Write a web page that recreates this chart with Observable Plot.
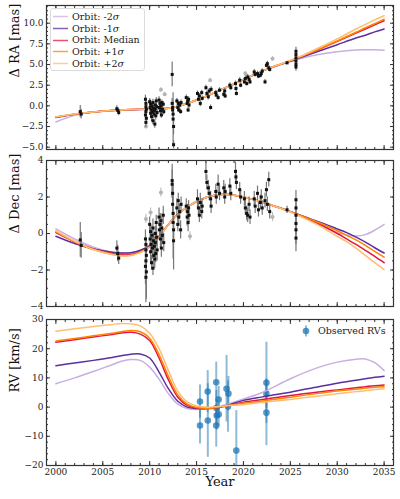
<!DOCTYPE html>
<html>
<head>
<meta charset="utf-8">
<script src="https://cdn.jsdelivr.net/npm/d3@7"></script>
<script src="https://cdn.jsdelivr.net/npm/@observablehq/plot@0.6"></script>
<style>
  body { margin: 0; background: #fff; }
  #chart { position: relative; width: 400px; height: 499px; font-family: "DejaVu Serif", serif; }
  #chart svg { display: block; }
  .legend { position: absolute; font-size: 9.5px; color: #222; line-height: 1; }
  .legend .row { position: absolute; display: flex; align-items: center; white-space: nowrap; }
  .legend svg { display: block; margin-right: 3px; }
</style>
</head>
<body>
<div id="chart"></div>
<script>
// ---- Orbit model curves, sampled by year ----
const orbitNames = ["-2", "-1", "Median", "+1", "+2"];
const orbitColors = ["#c9aee2", "#5c2e9e", "#e3173e", "#ff8200", "#ffbe70"];

const raYears  = [2000, 2002, 2004, 2006, 2008, 2010, 2011, 2012, 2013, 2014, 2015, 2016, 2017, 2018, 2019, 2020, 2021, 2022, 2023, 2024, 2025, 2026, 2028, 2030, 2032, 2033, 2034, 2035];
const raMinus2 = [-1.95, -1.15, -0.75, -0.56, -0.46, -0.4, -0.36, -0.3, -0.05, 0.3, 0.7, 1.15, 1.65, 2.15, 2.65, 3.2, 3.7, 4.2, 4.6, 5.0, 5.35, 5.7, 6.2, 6.55, 6.75, 6.78, 6.78, 6.72];
const raMinus1 = [-1.42, -1.02, -0.76, -0.56, -0.46, -0.4, -0.36, -0.3, -0.05, 0.3, 0.7, 1.15, 1.65, 2.15, 2.65, 3.2, 3.7, 4.2, 4.65, 5.05, 5.4, 5.8, 6.6, 7.4, 8.2, 8.55, 8.95, 9.3];
const raMedian = [-1.38, -1.0, -0.75, -0.55, -0.45, -0.4, -0.36, -0.3, -0.05, 0.3, 0.7, 1.15, 1.65, 2.15, 2.65, 3.2, 3.7, 4.2, 4.65, 5.05, 5.45, 5.9, 6.8, 7.8, 8.8, 9.3, 9.8, 10.3];
const raPlus1  = [-1.36, -1.0, -0.75, -0.55, -0.45, -0.4, -0.36, -0.3, -0.05, 0.3, 0.7, 1.15, 1.65, 2.15, 2.65, 3.2, 3.7, 4.2, 4.65, 5.05, 5.45, 5.9, 6.85, 7.85, 8.9, 9.45, 9.95, 10.5];
const raPlus2  = [-1.32, -0.98, -0.74, -0.55, -0.45, -0.4, -0.36, -0.3, -0.05, 0.3, 0.7, 1.15, 1.65, 2.15, 2.65, 3.2, 3.7, 4.2, 4.65, 5.07, 5.5, 5.95, 7.0, 8.1, 9.3, 9.85, 10.4, 10.9];

const decYears  = [2000, 2002, 2004, 2006, 2007, 2008, 2009, 2010, 2011, 2012, 2013, 2014, 2015, 2016, 2017, 2018, 2019, 2020, 2021, 2022, 2023, 2024, 2025, 2026, 2028, 2030, 2031, 2032, 2033, 2034, 2035];
const decMinus2 = [0.25, -0.3, -0.75, -1.02, -1.08, -1.06, -0.94, -0.68, -0.17, 0.5, 1.05, 1.45, 1.75, 1.97, 2.1, 2.15, 2.1, 2.0, 1.87, 1.72, 1.55, 1.38, 1.2, 0.98, 0.5, 0.05, -0.08, -0.14, -0.06, 0.18, 0.5];
const decMinus1 = [-0.15, -0.55, -0.85, -1.03, -1.07, -1.05, -0.92, -0.66, -0.15, 0.5, 1.05, 1.45, 1.75, 1.97, 2.1, 2.15, 2.1, 2.0, 1.87, 1.72, 1.55, 1.38, 1.2, 1.02, 0.65, 0.25, 0.05, -0.2, -0.47, -0.78, -1.07];
const decMedian = [0.05, -0.45, -0.85, -1.1, -1.17, -1.15, -1.0, -0.72, -0.2, 0.5, 1.05, 1.45, 1.75, 1.97, 2.1, 2.15, 2.1, 2.0, 1.87, 1.72, 1.55, 1.38, 1.2, 1.0, 0.55, 0.0, -0.3, -0.6, -0.92, -1.25, -1.6];
const decPlus1  = [0.1, -0.45, -0.88, -1.14, -1.21, -1.19, -1.03, -0.74, -0.2, 0.5, 1.05, 1.45, 1.75, 1.97, 2.1, 2.15, 2.1, 2.0, 1.87, 1.72, 1.55, 1.38, 1.2, 1.0, 0.6, 0.15, -0.1, -0.35, -0.65, -0.98, -1.3];
const decPlus2  = [0.15, -0.42, -0.88, -1.15, -1.23, -1.21, -1.05, -0.75, -0.2, 0.5, 1.05, 1.45, 1.75, 1.97, 2.1, 2.15, 2.1, 2.0, 1.87, 1.72, 1.55, 1.37, 1.18, 0.95, 0.45, -0.15, -0.45, -0.8, -1.2, -1.6, -1.98];

const rvYears  = [2000, 2002, 2004, 2006, 2007, 2008, 2009, 2010, 2011, 2012, 2013, 2014, 2015, 2016, 2017, 2018, 2020, 2022, 2025, 2028, 2030, 2032, 2033, 2034, 2035];
const rvMinus2 = [8.0, 10.0, 12.2, 14.5, 15.7, 16.3, 16.0, 13.7, 9.6, 4.6, 1.0, -0.5, -0.8, -0.6, -0.2, 0.7, 2.8, 5.0, 9.7, 13.6, 15.4, 16.4, 16.5, 15.2, 12.5];
const rvMinus1 = [14.2, 15.1, 16.0, 17.0, 17.6, 18.1, 18.2, 16.8, 12.0, 6.3, 2.0, 0.0, -0.5, -0.5, -0.2, 0.4, 2.3, 3.5, 5.1, 7.0, 8.2, 9.2, 9.7, 10.2, 10.6];
const rvMedian = [22.2, 23.1, 24.0, 24.9, 25.4, 25.6, 25.0, 22.8, 16.8, 9.3, 3.4, 0.6, -0.3, -0.5, -0.3, 0.3, 1.7, 2.6, 4.0, 5.2, 5.9, 6.6, 7.0, 7.3, 7.6];
const rvPlus1  = [22.6, 23.5, 24.4, 25.3, 25.8, 26.2, 25.8, 23.6, 18.0, 10.5, 4.2, 1.0, -0.1, -0.4, -0.2, 0.3, 1.3, 2.1, 3.4, 4.7, 5.5, 6.1, 6.5, 6.8, 7.0];
const rvPlus2  = [26.0, 26.8, 27.6, 28.3, 28.6, 28.5, 27.8, 25.3, 20.0, 12.5, 5.5, 1.8, 0.4, 0.0, 0.1, 0.4, 0.9, 1.6, 2.6, 3.8, 4.6, 5.3, 5.6, 6.0, 6.3];

// ---- Relative astrometry (mas), one entry per epoch ----
const astroYear = [
  2002.6, 2002.7,
  2006.5, 2006.6, 2006.7,
  2009.55, 2009.6, 2009.6, 2009.65, 2009.6, 2009.55, 2009.65, 2009.6,
  2010.0, 2010.05, 2010.1, 2010.1, 2010.15, 2010.2, 2010.25, 2010.3, 2010.35, 2010.35, 2010.4, 2010.45, 2010.5, 2010.55, 2010.6, 2010.6, 2010.65, 2010.7, 2010.75, 2010.8,
  2011.0, 2011.05, 2011.1, 2011.15, 2011.2, 2011.25, 2011.3, 2011.35, 2011.45, 2011.5,
  2012.4, 2012.4, 2012.45, 2012.45, 2012.5, 2012.5, 2012.55, 2012.55,
  2012.9, 2013.0, 2013.05, 2013.1, 2013.2, 2013.3, 2013.35,
  2013.9, 2014.0, 2014.05, 2014.1, 2014.15, 2014.2,
  2015.1, 2015.2, 2015.3, 2015.4, 2015.55, 2015.6,
  2016.0, 2016.1, 2016.25, 2016.35, 2016.5, 2016.55,
  2017.05, 2017.1, 2017.3, 2017.45, 2017.9, 2018.0, 2018.05,
  2018.55, 2018.65, 2019.15, 2019.2, 2019.25, 2019.6, 2019.7,
  2020.1, 2020.2, 2020.35, 2020.45, 2020.6, 2020.7,
  2021.15, 2021.25, 2021.5, 2021.6, 2021.8, 2021.9, 2022.0, 2022.3, 2022.45, 2022.55, 2022.7, 2022.8,
  2024.65,
  2025.6, 2025.6, 2025.6, 2025.6, 2025.6, 2025.6
];
const raOffset = [
  -0.7, -1.0,
  -0.35, -0.55, -0.8,
  0.8, 0.3, -0.1, -0.4, -0.7, -1.1, -1.5, -2.0,
  0.5, -0.2, 0.2, -0.9, -0.5, -1.3, 0.0, -0.7, -1.8, 0.4, -0.3, -1.0, -0.6, -2.2, 0.1, -0.4, -1.2, 0.6, -0.1, -0.8,
  0.7, -0.2, 0.3, -0.6, 0.0, -1.1, 0.4, -0.4, 0.2, -0.7,
  3.8, 0.3, -0.2, -0.5, -1.0, -1.6, -2.5, -4.7,
  0.6, -0.2, 0.3, -0.5, 0.1, -0.7, 0.4,
  1.0, 0.3, 0.6, -0.5, 0.8, 0.1,
  1.5, 0.8, 1.2, 0.3, 1.6, 0.9,
  2.2, 1.5, 1.1, 1.8, -0.2, 2.0,
  1.6, 1.3, 1.0, 1.9, 1.4, 1.8, 1.2,
  2.5, 2.2, 2.7, 2.1, 1.5, 3.1, 2.5,
  2.9, 3.3, 2.7, 3.5, 3.2, 2.9,
  4.1, 3.8, 3.9, 3.6, 3.7, 3.9, 4.2, 2.9, 4.9, 5.1, 4.6, 4.4,
  5.2,
  6.6, 6.2, 5.8, 5.4, 5.0, 4.7
];
const raError = [
  0.75, 0.6,
  0.35, 0.3, 0.4,
  0.5, 0.4, 0.4, 0.5, 0.4, 0.6, 0.5, 0.6,
  0.4, 0.3, 0.5, 0.4, 0.3, 0.6, 0.4, 0.3, 0.5, 0.4, 0.3, 0.5, 0.4, 0.5, 0.3, 0.4, 0.5, 0.4, 0.3, 0.4,
  0.4, 0.3, 0.4, 0.5, 0.3, 0.4, 0.3, 0.4, 0.3, 0.4,
  1.5, 0.6, 0.5, 0.5, 0.6, 3.2, 1.0, 0.5,
  0.3, 0.4, 0.3, 0.3, 0.4, 0.3, 0.3,
  0.3, 0.3, 0.4, 0.3, 0.3, 0.4,
  0.3, 0.3, 0.3, 0.4, 0.3, 0.3,
  0.3, 0.3, 0.4, 0.3, 0.3, 0.3,
  0.3, 0.3, 0.3, 0.3, 0.3, 0.3, 0.3,
  0.3, 0.3, 0.3, 0.3, 0.3, 0.3, 0.3,
  0.3, 0.3, 0.3, 0.3, 0.3, 0.3,
  0.3, 0.3, 0.3, 0.3, 0.3, 0.3, 0.3, 0.3, 0.3, 0.3, 0.3, 0.3,
  0.2,
  0.5, 0.4, 0.5, 0.4, 0.6, 0.5
];
const decOffset = [
  -0.35, -0.65,
  -0.8, -1.1, -1.35,
  -0.3, -0.6, -0.9, -1.2, -1.5, -1.8, -2.1, -2.4,
  0.5, -0.3, 0.1, -1.0, -0.6, -1.6, -0.1, -0.8, -1.9, 0.3, -0.4, -1.2, -0.7, -1.4, 0.0, -0.5, -1.1, 0.6, -0.2, -0.9,
  0.9, 0.2, 0.5, -0.3, 0.7, -0.8, 0.3, -0.1, 1.0, -0.5,
  2.9, 2.7, 2.2, 1.6, 1.1, 0.6, 0.2, -0.4,
  1.4, 0.5, 1.8, 0.9, 1.2, 0.2, 1.6,
  1.5, 0.9, 1.2, 0.6, 1.4, 1.0,
  1.9, 1.4, 1.0, 1.7, 1.2, 1.5,
  3.4, 2.8, 2.5, 2.2, 1.9, 1.5,
  2.3, 2.0, 2.7, 2.2, 2.5, 2.0, 2.3,
  2.6, 2.2, 3.4, 3.1, 2.8, 2.4, 2.0,
  1.9, 1.4, 1.1, 1.0, 1.6, 0.9,
  1.9, 1.5, 2.2, 1.3, 1.7, 2.0, 1.4, 1.8, 2.4, 1.6, 2.95, 1.2,
  1.3,
  1.85, 1.4, 1.0, 0.55, 0.2, -0.25
];
const decError = [
  0.95, 0.7,
  0.4, 0.45, 0.35,
  0.5, 0.4, 0.6, 0.5, 0.7, 1.0, 1.5, 1.4,
  0.4, 0.5, 0.4, 0.6, 0.5, 0.4, 0.5, 0.6, 0.4, 0.5, 0.4, 0.6, 0.5, 0.5, 0.4, 0.6, 0.5, 0.4, 0.5, 0.6,
  0.5, 0.4, 0.6, 0.5, 0.4, 0.5, 0.6, 0.4, 0.5, 0.5,
  0.9, 0.8, 0.6, 0.5, 0.5, 2.0, 0.7, 1.6,
  0.5, 0.4, 0.4, 0.5, 0.4, 0.5, 0.4,
  0.4, 0.5, 0.4, 0.5, 0.4, 0.4,
  0.5, 0.4, 0.4, 0.5, 0.4, 0.4,
  0.5, 0.4, 0.4, 0.4, 0.4, 0.4,
  0.4, 0.4, 0.5, 0.4, 0.4, 0.4, 0.4,
  0.4, 0.4, 0.5, 0.4, 0.4, 0.4, 0.4,
  0.4, 0.4, 0.4, 0.4, 0.4, 0.4,
  0.4, 0.4, 0.4, 0.4, 0.4, 0.4, 0.4, 0.4, 0.4, 0.4, 0.4, 0.4,
  0.2,
  0.5, 0.4, 0.5, 0.6, 0.8, 0.75
];

// Measurements left out of the fit (drawn in grey)
const raRejectYear   = [2009.6, 2011.2, 2011.6, 2016.45, 2020.2, 2023.1];
const raRejectOffset = [-2.5, 1.95, 1.4, 3.1, 3.9, 5.7];
const decRejectYear   = [2009.6, 2010.1, 2011.2, 2014.3, 2023.1];
const decRejectOffset = [0.8, 1.15, 2.25, -0.15, 0.9];

// ---- Observed radial velocities (km/s) ----
const rvObsYear  = [2015.37, 2015.37, 2016.19, 2016.2, 2017.1, 2017.12, 2017.15, 2017.1, 2017.36, 2017.36, 2018.2, 2018.4, 2018.35, 2019.24, 2022.45, 2022.45, 2022.45];
const rvObsValue = [1.9, -6.3, 5.3, -4.6, 8.5, -0.3, -2.9, -6.3, 2.6, -2.5, 6.3, 4.6, 0.2, -14.9, 8.3, 4.6, -1.9];
const rvObsError = [5.7, 6.3, 7.2, 12.6, 6.9, 6.0, 5.0, 7.4, 4.5, 4.0, 11.4, 5.9, 8.8, 13.7, 13.9, 5.0, 11.3];

// ---- Axis ticks ----
const xMajor = [2000, 2005, 2010, 2015, 2020, 2025, 2030, 2035];
const xMinor = d3.range(1999, 2037, 1);
const raMajor = [-5, -2.5, 0, 2.5, 5, 7.5, 10];
const raMinor = d3.range(-5, 12.01, 0.5);
const decMajor = [-4, -2, 0, 2, 4];
const decMinor = d3.range(-4, 4.01, 0.5);
const rvMajor = [-20, -10, 0, 10, 20, 30];
const rvMinor = d3.range(-20, 30.01, 2);

const blank = () => "";
const tickColor = "#333";

function frameAxes(yMajor, yMinor, yFormat, showX) {
  return [
    Plot.axisX(xMinor, {anchor: "bottom", tickSize: -2, tickFormat: blank, label: null, stroke: tickColor}),
    Plot.axisX(xMinor, {anchor: "top", tickSize: -2, tickFormat: blank, label: null, stroke: tickColor}),
    Plot.axisX(xMajor, {anchor: "bottom", tickSize: -4, tickFormat: blank, label: null, stroke: tickColor}),
    Plot.axisX(xMajor, {anchor: "top", tickSize: -4, tickFormat: blank, label: null, stroke: tickColor}),
    Plot.axisY(yMinor, {anchor: "left", tickSize: -2, tickFormat: blank, label: null, stroke: tickColor}),
    Plot.axisY(yMinor, {anchor: "right", tickSize: -2, tickFormat: blank, label: null, stroke: tickColor}),
    Plot.axisY(yMajor, {anchor: "left", tickSize: -4, tickFormat: blank, label: null, stroke: tickColor}),
    Plot.axisY(yMajor, {anchor: "right", tickSize: -4, tickFormat: blank, label: null, stroke: tickColor}),
    Plot.axisY(yMajor, {anchor: "left", tickSize: 0, tickPadding: 3, tickFormat: yFormat, label: null, fill: "#222"}),
    showX ? Plot.axisX(xMajor, {anchor: "bottom", tickSize: 0, tickPadding: 3, label: null, fill: "#222", tickFormat: d3.format("d")}) : null,
    Plot.frame({stroke: tickColor, strokeWidth: 1.2})
  ];
}

function orbitLines(years, series) {
  return series.map((vals, i) => Plot.lineY(vals, {
    x: years, stroke: orbitColors[i], strokeWidth: 1.5, curve: "catmull-rom", clip: true
  }));
}

function astrometryMarks(value, error, rejYear, rejValue) {
  const idx = d3.range(astroYear.length);
  const rej = d3.range(rejYear.length);
  return [
    Plot.ruleX(rej, {x: i => rejYear[i], y1: i => rejValue[i] - 0.25, y2: i => rejValue[i] + 0.25, stroke: "#bbb", strokeWidth: 1.1}),
    Plot.dot(rej, {x: i => rejYear[i], y: i => rejValue[i], r: 2, fill: "#b4b4b4"}),
    Plot.ruleX(idx, {x: i => astroYear[i], y1: i => value[i] - error[i], y2: i => value[i] + error[i], stroke: "#777", strokeWidth: 1.2, clip: true}),
    Plot.dot(idx, {x: i => astroYear[i], y: i => value[i], r: 1.7, symbol: "square", fill: "#111"})
  ];
}

const common = {
  width: 400, marginLeft: 46, marginRight: 7,
  x: {domain: [1999, 2036]},
  style: {fontFamily: '"DejaVu Serif", serif', fontSize: "9px", color: "#222", background: "white", overflow: "visible"}
};

const yTitle = (text) => Plot.text([text], {frameAnchor: "left", rotate: -90, dx: -32, fontSize: 13, fill: "#111"});

const raPlot = Plot.plot({
  ...common, height: 155, marginTop: 5, marginBottom: 6,
  y: {domain: [-5.28, 12.14]},
  marks: [
    ...orbitLines(raYears, [raMinus2, raMinus1, raMedian, raPlus1, raPlus2]),
    ...astrometryMarks(raOffset, raError, raRejectYear, raRejectOffset),
    ...frameAxes(raMajor, raMinor, d3.format(".1f"), false),
    yTitle("Δ RA [mas]")
  ]
});

const decPlot = Plot.plot({
  ...common, height: 155, marginTop: 5, marginBottom: 4,
  y: {domain: [-4, 4]},
  marks: [
    ...orbitLines(decYears, [decMinus2, decMinus1, decMedian, decPlus1, decPlus2]),
    ...astrometryMarks(decOffset, decError, decRejectYear, decRejectOffset),
    ...frameAxes(decMajor, decMinor, d3.format("d"), false),
    yTitle("Δ Dec [mas]")
  ]
});

const rvIdx = d3.range(rvObsYear.length);
const rvPlot = Plot.plot({
  ...common, height: 189, marginTop: 9, marginBottom: 34,
  y: {domain: [-20, 30]},
  marks: [
    Plot.ruleX(rvIdx, {x: i => rvObsYear[i], y1: i => rvObsValue[i] - rvObsError[i], y2: i => rvObsValue[i] + rvObsError[i], stroke: "#1f77b4", strokeOpacity: 0.5, strokeWidth: 2, clip: true}),
    Plot.dot(rvIdx, {x: i => rvObsYear[i], y: i => rvObsValue[i], r: 3.3, fill: "#1f77b4", fillOpacity: 0.75}),
    ...orbitLines(rvYears, [rvMinus2, rvMinus1, rvMedian, rvPlus1, rvPlus2]),
    ...frameAxes(rvMajor, rvMinor, d3.format("d"), true),
    yTitle("RV [km/s]"),
    Plot.text(["Year"], {frameAnchor: "bottom", dy: 20, fontSize: 13, fill: "#111"})
  ]
});

const chart = document.getElementById("chart");
chart.append(raPlot, decPlot, rvPlot);

// ---- Legends ----
const orbitLegend = d3.select(chart).append("div").attr("class", "legend")
  .style("left", "50px").style("top", "8px").style("width", "93px").style("height", "61px")
  .style("border", "1px solid #dcdcdc").style("border-radius", "3px").style("background", "rgba(255,255,255,0.8)");
orbitNames.forEach((name, i) => {
  const row = orbitLegend.append("div").attr("class", "row")
    .style("left", "2px").style("top", `${2 + i * 11.8}px`).style("height", "11px");
  const sw = row.append("svg").attr("width", 16).attr("height", 11);
  sw.append("line").attr("x1", 0).attr("x2", 15).attr("y1", 5.5).attr("y2", 5.5)
    .attr("stroke", orbitColors[i]).attr("stroke-width", 1.5).attr("stroke-opacity", 0.75);
  const label = row.append("span").text("Orbit: " + name);
  if (name !== "Median") label.append("i").text("σ");
});

const rvLegend = d3.select(chart).append("div").attr("class", "legend")
  .style("left", "301px").style("top", "325px");
const rvRow = rvLegend.append("div").attr("class", "row").style("left", "0px").style("top", "0px").style("height", "12px");
const rvSw = rvRow.append("svg").attr("width", 12).attr("height", 12).style("margin-right", "5px");
rvSw.append("line").attr("x1", 5).attr("x2", 5).attr("y1", 0.5).attr("y2", 11.5)
  .attr("stroke", "#1f77b4").attr("stroke-opacity", 0.5).attr("stroke-width", 2);
rvSw.append("circle").attr("cx", 5).attr("cy", 6).attr("r", 3.3).attr("fill", "#1f77b4").attr("fill-opacity", 0.75);
rvRow.append("span").text("Observed RVs");
</script>
</body>
</html>
